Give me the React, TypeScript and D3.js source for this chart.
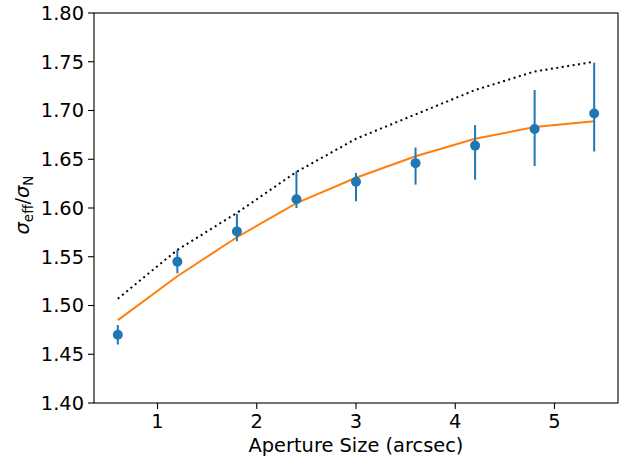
import React from "react";
import * as d3 from "d3";

const apertures = [0.6, 1.2, 1.8, 2.4, 3.0, 3.6, 4.2, 4.8, 5.4];
const measured = [1.470, 1.545, 1.576, 1.609, 1.627, 1.646, 1.664, 1.681, 1.697];
const errLower = [1.460, 1.533, 1.566, 1.600, 1.607, 1.624, 1.629, 1.643, 1.658];
const errUpper = [1.480, 1.557, 1.594, 1.638, 1.636, 1.662, 1.685, 1.721, 1.749];
const fitModel = [1.485, 1.530, 1.570, 1.605, 1.631, 1.653, 1.671, 1.683, 1.689];
const upperModel = [1.507, 1.557, 1.595, 1.637, 1.671, 1.696, 1.721, 1.740, 1.750];

const xTicks = [1, 2, 3, 4, 5];
const yTicks = [1.40, 1.45, 1.50, 1.55, 1.60, 1.65, 1.70, 1.75, 1.80];

const W = 628;
const H = 462;
const L = 94, R = 618, T = 13, B = 403;
const FONT = "DejaVu Sans, sans-serif";
const FS = 19.4;
const BLUE = "#1f77b4";
const ORANGE = "#ff7f0e";

export default function App() {
  const x = d3.scaleLinear().domain([0.36, 5.64]).range([L, R]);
  const y = d3.scaleLinear().domain([1.40, 1.80]).range([B, T]);
  const line = (vals: number[]) =>
    d3.line<number>().x((_, i) => x(apertures[i])).y((v) => y(v))(vals) || "";

  return (
    <svg
      width={W}
      height={H}
      style={{ position: "absolute", left: 0, top: 0, background: "#fff" }}
    >
      <rect x={0} y={0} width={W} height={H} fill="#fff" />
      <path
        d={line(upperModel)}
        fill="none"
        stroke="#000"
        strokeWidth={2}
        strokeDasharray="2,3.5"
      />
      <path d={line(fitModel)} fill="none" stroke={ORANGE} strokeWidth={2} />
      {apertures.map((a, i) => (
        <g key={i}>
          <line
            x1={x(a)}
            x2={x(a)}
            y1={y(errLower[i])}
            y2={y(errUpper[i])}
            stroke={BLUE}
            strokeWidth={2}
          />
          <circle cx={x(a)} cy={y(measured[i])} r={5} fill={BLUE} />
        </g>
      ))}
      <rect
        x={L}
        y={T}
        width={R - L}
        height={B - T}
        fill="none"
        stroke="#000"
        strokeWidth={1.1}
      />
      {xTicks.map((t) => (
        <g key={t}>
          <line x1={x(t)} x2={x(t)} y1={B} y2={B + 6} stroke="#000" strokeWidth={1.1} />
          <text
            x={x(t)}
            y={428}
            textAnchor="middle"
            fontFamily={FONT}
            fontSize={FS}
            fill="#000"
          >
            {t}
          </text>
        </g>
      ))}
      {yTicks.map((t) => (
        <g key={t}>
          <line x1={L - 6} x2={L} y1={y(t)} y2={y(t)} stroke="#000" strokeWidth={1.1} />
          <text
            x={L - 10}
            y={y(t)}
            dy="0.36em"
            textAnchor="end"
            fontFamily={FONT}
            fontSize={FS}
            fill="#000"
          >
            {t.toFixed(2)}
          </text>
        </g>
      ))}
      <text
        x={(L + R) / 2}
        y={452}
        textAnchor="middle"
        fontFamily={FONT}
        fontSize={FS}
        fill="#000"
      >
        Aperture Size (arcsec)
      </text>
      <text
        transform={`translate(29, 205) rotate(-90)`}
        textAnchor="middle"
        fontFamily={FONT}
        fontSize={FS}
        fill="#000"
      >
        <tspan fontStyle="italic">σ</tspan>
        <tspan fontSize={FS * 0.7} dy={4}>eff</tspan>
        <tspan dy={-4}>/</tspan>
        <tspan fontStyle="italic">σ</tspan>
        <tspan fontSize={FS * 0.7} dy={4}>N</tspan>
      </text>
    </svg>
  );
}
